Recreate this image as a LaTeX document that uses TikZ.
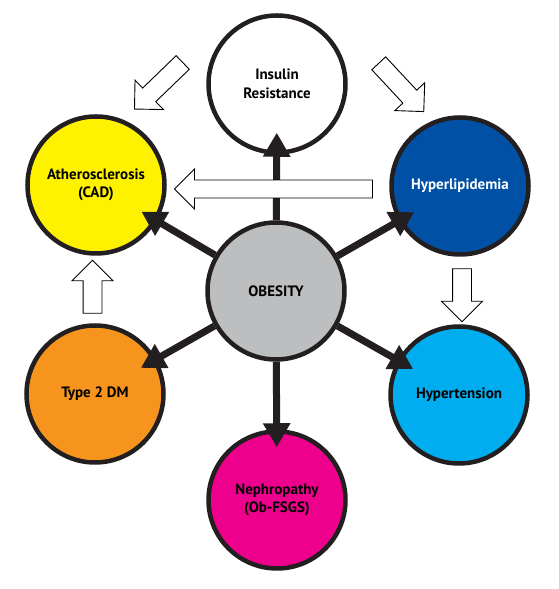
\documentclass[tikz,border=0pt]{standalone}
\usepackage{tikz}
\usepackage{xcolor}
\usepackage{fontspec}
\setmainfont{PT Sans}
\usetikzlibrary{arrows.meta,shapes.arrows}

\definecolor{rim}{HTML}{231F20}
\definecolor{obegray}{HTML}{BCBEC0}
\definecolor{athyellow}{HTML}{FFF200}
\definecolor{hypblue}{HTML}{0051A5}
\definecolor{htncyan}{HTML}{00AEEF}
\definecolor{dmorange}{HTML}{F7941D}
\definecolor{nepmagenta}{HTML}{EC008C}

\begin{document}
\begin{tikzpicture}[
  x=1pt,y=1pt,
  disease/.style={circle,draw=rim,line width=4.5pt,minimum size=137pt,inner sep=0pt,align=center,font=\fontsize{15}{18.5}\selectfont\bfseries},
  link/.style={draw=rim,line width=7pt,-{Triangle[length=24pt,width=26pt]},shorten >=-18pt},
  hollow/.style={single arrow,draw=black,line width=0.9pt,fill=white,inner sep=9pt,minimum width=40pt,single arrow head extend=11pt,single arrow tip angle=90}
]
  \useasboundingbox (0,0) rectangle (558,589);
  \node[disease,fill=obegray] (obe) at (276,298) {OBESITY};
  \node[disease,fill=white] (ins) at (277,505) {Insulin\\Resistance};
  \node[disease,fill=athyellow] (ath) at (96,404) {Atherosclerosis\\(CAD)};
  \node[disease,fill=hypblue,text=white] (hyp) at (460,403) {Hyperlipidemia};
  \node[disease,fill=dmorange] (t2d) at (95,195) {Type 2 DM};
  \node[disease,fill=htncyan] (htn) at (459,194) {Hypertension};
  \node[disease,fill=nepmagenta] (nep) at (277,89) {Nephropathy\\(Ob-FSGS)};
  \draw[link,shorten >=-22pt] (obe) -- (ins);
  \draw[link] (obe) -- (ath);
  \draw[link] (obe) -- (hyp);
  \draw[link] (obe) -- (t2d);
  \draw[link] (obe) -- (htn);
  \draw[link] (obe) -- (nep);
  \node[hollow,minimum height=67pt,rotate=224] (insath) at (162,506.5) {};
  \node[hollow,minimum height=66pt,rotate=-47] (inshyp) at (398,505) {};
  \node[hollow,minimum height=198pt,rotate=180,inner sep=8.5pt] (hypath) at (278,400) {};
  \node[hollow,minimum height=53pt,rotate=270] (hyphtn) at (462,298.5) {};
  \node[hollow,minimum height=53pt,rotate=90] (t2dath) at (92.5,297.5) {};
\end{tikzpicture}
\end{document}
